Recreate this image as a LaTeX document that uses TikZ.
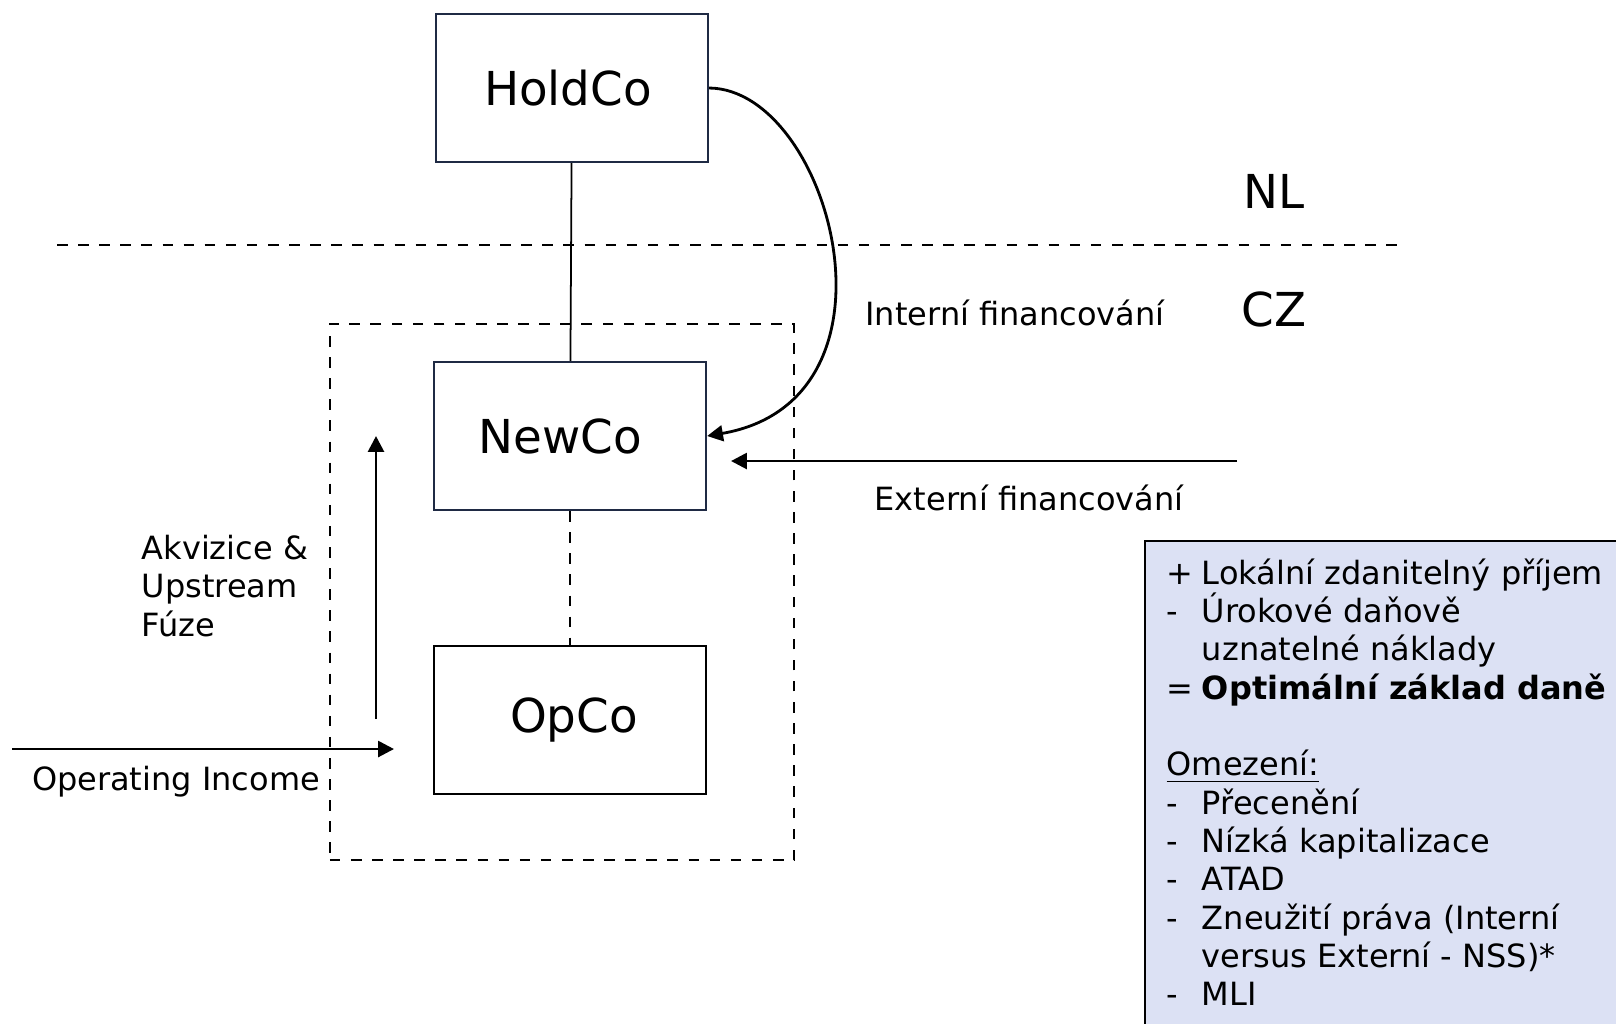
\documentclass[tikz,border=0pt]{standalone}
\usepackage{fontspec}
\setmainfont{DejaVu Sans}
\usetikzlibrary{arrows.meta,positioning}
\definecolor{navy}{RGB}{31,42,68}
\definecolor{infofill}{RGB}{220,225,244}
\newcommand{\mk}[1]{\makebox[1.1em][l]{#1}}

\begin{document}
\begin{tikzpicture}[x=0.01cm,y=-0.01cm,
    entity/.style={draw, rectangle, line width=0.6pt, minimum width=2.72cm, minimum height=1.48cm, inner sep=0pt, font=\fontsize{13.3}{16}\selectfont},
    group/.style={draw, dashed, rectangle, line width=0.5pt, inner sep=0pt},
    lbl/.style={font=\fontsize{9.1}{10.9}\selectfont, inner sep=0pt},
    big/.style={font=\fontsize{13.3}{16}\selectfont, inner sep=0pt},
    flow/.style={-{Triangle[length=4.5pt,width=4.5pt]}, line width=0.8pt},
    infobox/.style={draw, fill=infofill, rectangle, line width=0.6pt, inner sep=0pt}]
  \useasboundingbox (0,0) rectangle (1616,1023);
  \clip (0,0) rectangle (1616,1023);
  \draw[dashed, line width=0.5pt] (57,245) -- (1404,245);
  \node[group, minimum width=4.64cm, minimum height=5.36cm] (grp) at (562,592) {};
  \node[entity, draw=navy] (hold) at (572,88) {HoldCo\hspace*{0.08cm}};
  \node[entity, draw=navy] (new) at (570,436) {NewCo\hspace*{0.2cm}};
  \node[entity] (op) at (570,720) {\hspace*{0.08cm}\raisebox{-0.06cm}{OpCo}};
  \node[big] (nl) at (1274,191) {NL};
  \node[big] (cz) at (1274,309) {CZ};
  \node[lbl] (intfin) at (1015,313) {Interní financování};
  \node[lbl] (extfin) at (1029,498) {Externí financování};
  \node[lbl, anchor=west, align=left] (akv) at (141,586) {Akvizice \&\\Upstream\\Fúze};
  \node[lbl] (opinc) at (176,782) {Operating Income};
  \coordinate (extsrc) at (1237,461);
  \coordinate (exttip) at (731,461);
  \coordinate (upsrc) at (376,719);
  \coordinate (uptip) at (376,436);
  \coordinate (incsrc) at (12,749);
  \coordinate (inctip) at (394,749);
  \draw[line width=0.5pt] (hold) -- (new);
  \draw[dashed, line width=0.5pt] (new) -- (op);
  \draw[flow] (hold.east) .. controls (830,89) and (915,400) .. (new.east);
  \draw[flow] (extsrc) -- (exttip);
  \draw[flow] (upsrc) -- (uptip);
  \draw[flow] (incsrc) -- (inctip);
  \node[infobox, anchor=north west, minimum width=5cm, minimum height=5cm] (info) at (1144,540) {};
  \node[lbl, anchor=north west, align=left] (infotxt) at (1166,558) {\mk{+}Lokální zdanitelný příjem\\
    \mk{-}Úrokové daňově\\
    \mk{}uznatelné náklady\\
    \mk{=}\textbf{Optimální základ daně}\\
    \mbox{}\\
    \underline{Omezení:}\\
    \mk{-}Přecenění\\
    \mk{-}Nízká kapitalizace\\
    \mk{-}ATAD\\
    \mk{-}Zneužití práva (Interní\\
    \mk{}versus Externí - NSS)*\\
    \mk{-}MLI};
\end{tikzpicture}
\end{document}
